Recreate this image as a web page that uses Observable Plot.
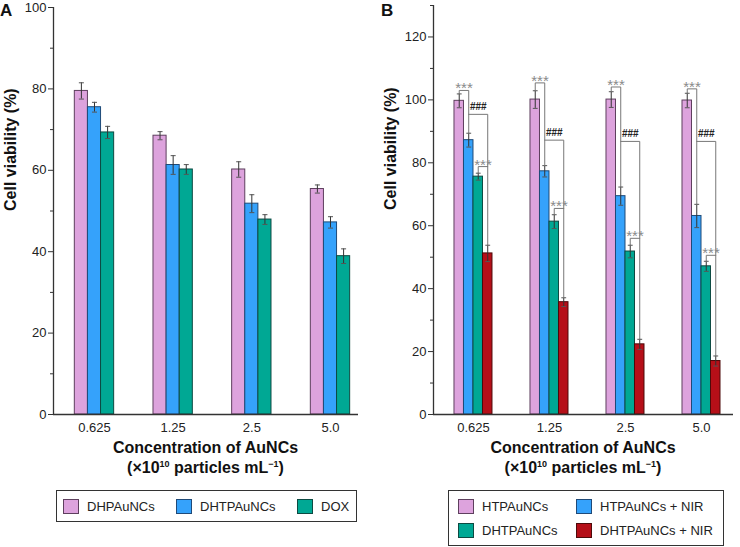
<!DOCTYPE html>
<html><head><meta charset="utf-8">
<script src="https://cdn.jsdelivr.net/npm/d3@7"></script>
<script src="https://cdn.jsdelivr.net/npm/@observablehq/plot@0.6"></script>
<style>
body{margin:0;background:#fff;font-family:"Liberation Sans",Arial,sans-serif;}
#root{position:relative;width:740px;height:547px;overflow:hidden;background:#fff;}
.letter{font-weight:bold;font-size:17px;color:#111;line-height:17px;}
.xtitle{font-weight:bold;font-size:16px;text-align:center;line-height:20px;color:#111;white-space:nowrap;}
.xtitle .sp{font-size:9px;position:relative;top:-6px;line-height:0;}
.legend{border:1px solid #333;box-sizing:border-box;}
.item{position:absolute;font-size:13px;color:#222;display:flex;align-items:center;height:16px;white-space:nowrap;}
.sw{width:16px;height:15px;border:1px solid #444;box-sizing:border-box;margin-right:8px;flex:none;}
</style></head><body><div id="root"></div>
<script>
// ---- data ----
const groups = ["0.625", "1.25", "2.5", "5.0"];

const seriesA = ["DHPAuNCs", "DHTPAuNCs", "DOX"];
const valuesA = [
  [79.5, 68.5, 60.2, 55.4],
  [75.5, 61.3, 51.8, 47.2],
  [69.3, 60.2, 47.9, 38.9]
];
const errorsA = [
  [2.0, 1.0, 1.9, 1.0],
  [1.2, 2.3, 2.2, 1.4],
  [1.5, 1.2, 1.2, 1.8]
];

const seriesB = ["HTPAuNCs", "HTPAuNCs + NIR", "DHTPAuNCs", "DHTPAuNCs + NIR"];
const valuesB = [
  [99.7, 100.1, 100.1, 99.8],
  [87.2, 77.3, 69.4, 63.1],
  [75.6, 61.3, 51.8, 47.1],
  [51.2, 35.7, 22.3, 17.0]
];
const errorsB = [
  [2.2, 2.8, 2.5, 2.3],
  [2.2, 1.8, 2.9, 3.7],
  [1.1, 2.2, 2.0, 1.6],
  [2.6, 1.4, 1.6, 1.6]
];
// significance bracket levels (panel B)
const bracketHigh = [103.0, 105.4, 104.1, 103.5]; // *** HTPAuNCs vs HTPAuNCs+NIR
const bracketHash = [95.4, 87.2, 86.8, 86.8];     // ### HTPAuNCs+NIR vs DHTPAuNCs+NIR
const bracketLow  = [78.8, 65.5, 56.0, 50.6];     // *** DHTPAuNCs vs DHTPAuNCs+NIR

const ticksA = [0, 20, 40, 60, 80, 100];
const minorA = [10, 30, 50, 70, 90];
const ticksB = [0, 20, 40, 60, 80, 100, 120];
const minorB = [10, 30, 50, 70, 90, 110, 130];

const fills = ["#dda3dd", "#35a2fb", "#00a894", "#b50f18"];
const strokes = ["#5e3f5e", "#1f4a78", "#0d4a42", "#4e0a0a"];
const fillsA = [fills[0], fills[1], fills[2]];
const strokesA = [strokes[0], strokes[1], strokes[2]];

// ---- helpers ----
function rows(series, values, errors) {
  const out = [];
  const n = series.length, bw = 0.5 / n;
  series.forEach((s, si) => groups.forEach((g, gi) => {
    const x1 = gi - 0.25 + si * bw;
    out.push({s, si, gi, v: values[si][gi], e: errors[si][gi], x1, x2: x1 + bw, c: x1 + bw / 2});
  }));
  return out;
}

function panel({series, values, errors, fillC, strokeC, yMax, ticks, minor, xDom, marginLeft, marginRight, marginTop, marginBottom, extra}) {
  const data = rows(series, values, errors);
  const cap = 0.032;
  const marks = [];
  series.forEach((s, si) => {
    marks.push(Plot.rectY(data.filter(d => d.si === si), {
      x1: "x1", x2: "x2", y1: 0, y2: "v", fill: fillC[si], stroke: strokeC[si], strokeWidth: 1
    }));
  });
  marks.push(
    Plot.ruleX(data, {x: "c", y1: d => d.v - d.e, y2: d => d.v + d.e, stroke: "#333", strokeWidth: 1}),
    Plot.link(data, {x1: d => d.c - cap, x2: d => d.c + cap, y1: d => d.v + d.e, y2: d => d.v + d.e, stroke: "#555", strokeWidth: 1}),
    Plot.link(data, {x1: d => d.c - cap, x2: d => d.c + cap, y1: d => d.v - d.e, y2: d => d.v - d.e, stroke: "#555", strokeWidth: 1})
  );
  if (extra) marks.push(...extra(data));
  marks.push(
    Plot.ruleY([0], {stroke: "#333", strokeWidth: 1.3}),
    Plot.ruleX([xDom[0]], {y1: 0, y2: yMax, stroke: "#333", strokeWidth: 1.3}),
    Plot.axisY(ticks, {tickSize: 5, tickPadding: 2, fontSize: 13, label: null, stroke: "#333"}),
    Plot.axisY(minor, {tickSize: 3, tickFormat: () => "", label: null, stroke: "#333"}),
    Plot.axisX([0, 1, 2, 3], {tickSize: 0, tickPadding: 8, tickFormat: i => groups[i], fontSize: 13, label: null}),
    Plot.text(["Cell viability (%)"], {text: d => d, frameAnchor: "left", rotate: -90, dx: -43, fontSize: 16, fontWeight: "bold", fill: "#111"})
  );
  return Plot.plot({
    width: 370, height: 450,
    marginLeft, marginRight, marginTop, marginBottom,
    x: {domain: xDom},
    y: {domain: [0, yMax]},
    style: {fontFamily: "'Liberation Sans', Arial, sans-serif", color: "#222", background: "transparent", overflow: "visible"},
    marks
  });
}

function bracketsB(data) {
  const get = (si, gi) => data.find(d => d.si === si && d.gi === gi);
  const hi = [], hash = [], lo = [], labels = [];
  groups.forEach((g, gi) => {
    const p = get(0, gi), b = get(1, gi), t = get(2, gi), r = get(3, gi);
    hi.push({gi, x: p.c, y: p.v + p.e}, {gi, x: p.c, y: bracketHigh[gi]}, {gi, x: b.c, y: bracketHigh[gi]}, {gi, x: b.c, y: b.v + b.e});
    hash.push({gi, x: b.c, y: bracketHash[gi]}, {gi, x: r.c, y: bracketHash[gi]}, {gi, x: r.c, y: r.v + r.e});
    lo.push({gi, x: t.c, y: t.v + t.e}, {gi, x: t.c, y: bracketLow[gi]}, {gi, x: r.c, y: bracketLow[gi]});
    labels.push({x: (p.c + b.c) / 2, y: bracketHigh[gi], t: "***", k: "s"});
    labels.push({x: (b.c + r.c) / 2, y: bracketHash[gi], t: "###", k: "h"});
    labels.push({x: (t.c + r.c) / 2, y: bracketLow[gi], t: "***", k: "s"});
  });
  const lineOpts = {x: "x", y: "y", z: "gi", stroke: "#777", strokeWidth: 1, curve: "linear"};
  return [
    Plot.line(hi, lineOpts),
    Plot.line(hash, lineOpts),
    Plot.line(lo, lineOpts),
    Plot.text(labels.filter(d => d.k === "s"), {x: "x", y: "y", text: "t", fontSize: 15, fill: "#8a8a8a", lineAnchor: "bottom", dy: 3}),
    Plot.text(labels.filter(d => d.k === "h"), {x: "x", y: "y", text: "t", fontSize: 10, fontWeight: "bold", fill: "#222", lineAnchor: "bottom", dy: -4})
  ];
}

// ---- layout ----
const root = document.getElementById("root");
function place(el, left, top) { el.style.position = "absolute"; el.style.left = left + "px"; el.style.top = top + "px"; root.appendChild(el); return el; }

const svgA = panel({series: seriesA, values: valuesA, errors: errorsA, fillC: fillsA, strokeC: strokesA,
  yMax: 100, ticks: ticksA, minor: minorA, xDom: [-0.521, 3.356], marginLeft: 53, marginRight: 12,
  marginTop: 15, marginBottom: 28});
place(svgA, 0, -8);

const svgB = panel({series: seriesB, values: valuesB, errors: errorsB, fillC: fills, strokeC: strokes,
  yMax: 130, ticks: ticksB, minor: minorB, xDom: [-0.526, 3.421], marginLeft: 63, marginRight: 7,
  marginTop: 15, marginBottom: 26, extra: bracketsB});
place(svgB, 370, -10);

function div(cls, html) { const d = document.createElement("div"); d.className = cls; d.innerHTML = html; return d; }

place(div("letter", "A"), 0, 2);
place(div("letter", "B"), 381, 2);

const xt = 'Concentration of AuNCs<br>(×10<span class="sp">10</span> particles mL<span class="sp">−1</span>)';
const tA = place(div("xtitle", xt), 53, 438); tA.style.width = "305px";
const tB = place(div("xtitle", xt), 433, 438); tB.style.width = "300px";

// legends
const lgA = place(div("legend", ""), 56, 490); lgA.style.width = "301px"; lgA.style.height = "32px";
const lgB = place(div("legend", ""), 448, 490); lgB.style.width = "276px"; lgB.style.height = "56px";

function item(text, si, left, top, fillC, strokeC) {
  const it = div("item", '<span class="sw"></span><span></span>');
  it.children[0].style.background = fillC[si];
  it.children[0].style.borderColor = strokeC[si];
  it.children[1].textContent = text;
  place(it, left, top);
}
const posA = [63, 176, 297];
seriesA.forEach((s, i) => item(s, i, posA[i], 498, fillsA, strokesA));
const posB = [[458, 498], [576, 498], [458, 522], [576, 522]];
seriesB.forEach((s, i) => item(s, i, posB[i][0], posB[i][1], fills, strokes));
</script></body></html>
